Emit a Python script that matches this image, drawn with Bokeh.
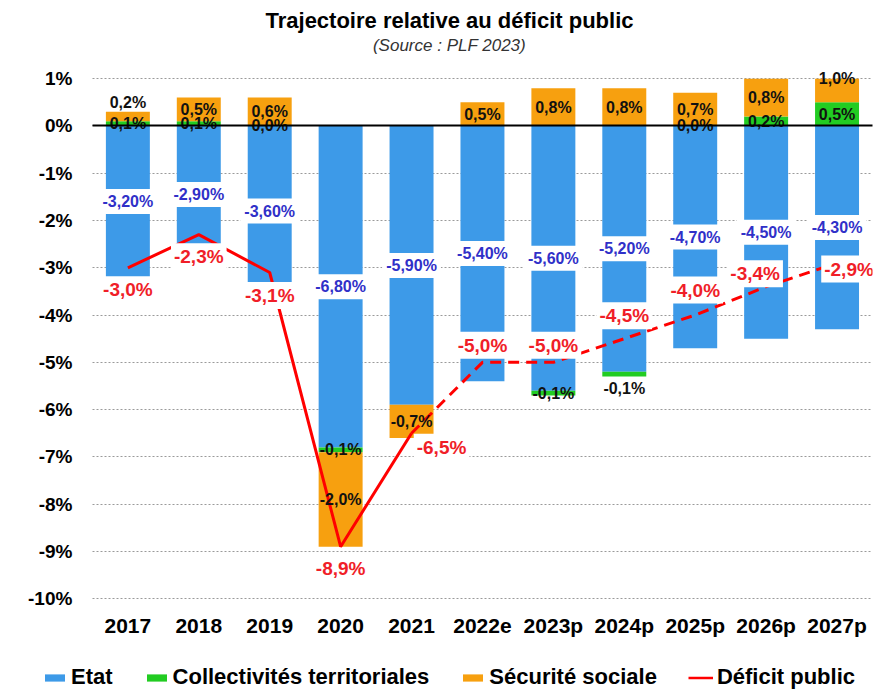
from bokeh.plotting import figure
from bokeh.layouts import column
from bokeh.models import (ColumnDataSource, FactorRange, Range1d, FixedTicker, Grid,
                          Legend, LegendItem, CustomJSTickFormatter)
from bokeh.core.properties import value
from bokeh.embed import file_html
from bokeh.resources import INLINE

# ---------------- data ----------------
years = ["2017", "2018", "2019", "2020", "2021", "2022e", "2023p", "2024p", "2025p", "2026p", "2027p"]
etat = [-3.2, -2.9, -3.6, -6.8, -5.9, -5.4, -5.6, -5.2, -4.7, -4.5, -4.3]
collectivites = [0.1, 0.1, 0.0, -0.1, None, None, -0.1, -0.1, 0.0, 0.2, 0.5]
securite_sociale = [0.2, 0.5, 0.6, -2.0, -0.7, 0.5, 0.8, 0.8, 0.7, 0.8, 1.0]
deficit = [-3.0, -2.3, -3.1, -8.9, -6.5, -5.0, -5.0, -4.5, -4.0, -3.4, -2.9]
last_actual = "2021"
y_ticks = list(range(-10, 2))
title_text = "Trajectoire relative au déficit public"
subtitle_text = "(Source : PLF 2023)"
series_names = ["Etat", "Collectivités territoriales", "Sécurité sociale", "Déficit public"]

# ---------------- style / layout ----------------
FONT = "Liberation Sans"
C_ETAT, C_COLL, C_SECU, C_DEF = "#3d9ae8", "#22cc22", "#f7a00f", "#ff0000"
C_ETAT_TXT, C_DEF_TXT = "#3030c8", "#f01e28"
Y_MIN, Y_MAX, AXIS_MAX = -10.25, 1.3, 1.0
W = 875
HEAD_H, MAIN_H, LEG_H = 64, 586, 40
BL, BR, BT, BB = 21, 3, 0, 40
PPU = (MAIN_H - BT - BB) / (Y_MAX - Y_MIN)      # pixels per percentage point
BAR_W = 0.62
PAD = " "                                        # empty slot left of the bars, holds the y labels
AXIS_POS = 1.0                                   # synthetic x where the y axis sits
# red label placement (pixels; dy positive = below the point)
RED_DX = [0, 0, 0, 0, 30, 0, 0, 0, 0, -11, 12]
RED_DY = [22, 22, 23, 22, 14, -17, -17, -23, -25, -13, 6]
SECU_NUDGE = {"2017": -14}
COLL_NUDGE = {"2024p": 14}


def fmt1(v):
    return f"{v:.1f}".replace(".", ",") + "%"


def fmt2(v):
    return f"{v:.2f}".replace(".", ",") + "%"


def blank_fig(h):
    f = figure(width=W, height=h, x_range=Range1d(BL, W - BR), y_range=Range1d(h, 0),
               output_backend="svg", toolbar_location=None,
               min_border_left=BL, min_border_right=BR, min_border_top=0, min_border_bottom=0,
               x_axis_type=None, y_axis_type=None)
    f.outline_line_color = None
    f.grid.visible = False
    return f


# ---------------- stacking ----------------
etat_src = dict(x=[], top=[], bottom=[])
coll_src = dict(x=[], top=[], bottom=[])
secu_src = dict(x=[], top=[], bottom=[])
etat_lbl = dict(x=[], y=[], t=[])
black_lbl = dict(x=[], y=[], t=[])

for yr, e, c, s in zip(years, etat, collectivites, securite_sociale):
    etat_src["x"].append(yr); etat_src["top"].append(0); etat_src["bottom"].append(e)
    etat_lbl["x"].append(yr); etat_lbl["y"].append(e / 2); etat_lbl["t"].append(fmt2(e))
    neg = e
    pos = 0.0
    if c is not None:
        if c >= 0:
            b, t = 0.0, c
            pos = c
        else:
            b, t = neg + c, neg
            neg = neg + c
        coll_src["x"].append(yr); coll_src["bottom"].append(b); coll_src["top"].append(min(t, AXIS_MAX))
        black_lbl["x"].append(yr)
        black_lbl["y"].append((b + t) / 2 - COLL_NUDGE.get(yr, 0) / PPU)
        black_lbl["t"].append(fmt1(c))
    if s >= 0:
        b, t = pos, pos + s
    else:
        b, t = neg + s, neg
    secu_src["x"].append(yr); secu_src["bottom"].append(b); secu_src["top"].append(min(t, AXIS_MAX))
    black_lbl["x"].append(yr)
    black_lbl["y"].append((b + t) / 2 - SECU_NUDGE.get(yr, 0) / PPU)
    black_lbl["t"].append(fmt1(s))

red_lbl = dict(x=list(years), y=[d - dy / PPU for d, dy in zip(deficit, RED_DY)],
               t=[fmt1(d) for d in deficit], dx=RED_DX)

k = years.index(last_actual)

# ---------------- header ----------------
head = blank_fig(HEAD_H)
head.text(x=[449], y=[20], text=[title_text], text_font=value(FONT), text_font_style="bold",
          text_font_size=value("22px"), text_color="black", text_align="center", text_baseline="middle")
head.text(x=[449], y=[45], text=[subtitle_text], text_font=value(FONT), text_font_style="italic",
          text_font_size=value("17px"), text_color="#333333", text_align="center", text_baseline="middle")

# ---------------- main chart ----------------
p = figure(x_range=FactorRange(PAD, *years), y_range=Range1d(Y_MIN, Y_MAX),
           width=W, height=MAIN_H, title=None, output_backend="svg", toolbar_location=None,
           min_border_left=BL, min_border_right=BR, min_border_top=BT, min_border_bottom=BB)
p.x_range.range_padding = 0
p.outline_line_color = None

r_etat = p.vbar(x="x", top="top", bottom="bottom", width=BAR_W, source=ColumnDataSource(etat_src),
                fill_color=C_ETAT, line_color=None)
r_coll = p.vbar(x="x", top="top", bottom="bottom", width=BAR_W, source=ColumnDataSource(coll_src),
                fill_color=C_COLL, line_color=None)
r_secu = p.vbar(x="x", top="top", bottom="bottom", width=BAR_W, source=ColumnDataSource(secu_src),
                fill_color=C_SECU, line_color=None)

# y axis sits at the left edge of the bar area
p.yaxis.fixed_location = AXIS_POS
p.yaxis.ticker = FixedTicker(ticks=y_ticks)
p.yaxis.formatter = CustomJSTickFormatter(code="return tick + '%';")
for ax in (p.xaxis[0], p.yaxis[0]):
    ax.axis_line_color = None
    ax.major_tick_line_color = None
    ax.minor_tick_line_color = None
    ax.major_tick_out = 0
    ax.major_tick_in = 0
    ax.minor_tick_out = 0
    ax.minor_tick_in = 0
    ax.major_label_text_font = FONT
    ax.major_label_text_font_style = "bold"
    ax.major_label_text_color = "black"
p.yaxis.major_label_text_font_size = "19px"
p.xaxis.major_label_text_font_size = "21px"
p.yaxis.major_label_standoff = 20
p.xaxis.major_label_standoff = 3

p.xgrid.grid_line_color = None
p.ygrid.grid_line_color = "#9a9a9a"
p.ygrid.grid_line_dash = "2 2"
p.ygrid.grid_line_width = 1
p.ygrid.cross_bounds = (AXIS_POS, len(years) + 1.0)

zero = Grid(dimension=1, ticker=FixedTicker(ticks=[0]), grid_line_color="black",
            grid_line_width=2, cross_bounds=(AXIS_POS, len(years) + 1.0), level="annotation")
p.add_layout(zero)

p.line(years[:k + 1], deficit[:k + 1], line_color=C_DEF, line_width=3)
p.line(years[k:], deficit[k:], line_color=C_DEF, line_width=3, line_dash="11 7")

p.text(x="x", y="y", text="t", source=ColumnDataSource(etat_lbl),
       text_font=value(FONT), text_font_style="bold", text_font_size=value("16px"),
       text_color=C_ETAT_TXT, text_align="center", text_baseline="middle",
       background_fill_color="white", padding=4)
p.text(x="x", y="y", text="t", source=ColumnDataSource(black_lbl),
       text_font=value(FONT), text_font_style="bold", text_font_size=value("16px"),
       text_color="#111111", text_align="center", text_baseline="middle")
p.text(x="x", y="y", text="t", x_offset="dx", source=ColumnDataSource(red_lbl),
       text_font=value(FONT), text_font_style="bold", text_font_size=value("19px"),
       text_color=C_DEF_TXT, text_align="center", text_baseline="middle",
       background_fill_color="white", padding=3)

# ---------------- legend strip ----------------
leg = blank_fig(LEG_H)
nan = float("nan")
l_etat = leg.vbar(x=[0], top=[nan], width=1, fill_color=C_ETAT, line_color=None)
l_coll = leg.vbar(x=[0], top=[nan], width=1, fill_color=C_COLL, line_color=None)
l_secu = leg.vbar(x=[0], top=[nan], width=1, fill_color=C_SECU, line_color=None)
l_def = leg.line(x=[0, 0], y=[nan, nan], line_color=C_DEF, line_width=2.5)
legend = Legend(items=[LegendItem(label=n, renderers=[r]) for n, r in
                       zip(series_names, [l_etat, l_coll, l_secu, l_def])],
                orientation="horizontal", location=(42 - BL, 0), margin=0, padding=0,
                spacing=31, label_standoff=4, glyph_width=25, glyph_height=9,
                label_text_font=FONT, label_text_font_style="bold", label_text_font_size="22px",
                label_text_color="black", border_line_color=None, background_fill_alpha=0)
leg.add_layout(legend, "center")

open("out.html", "w").write(file_html(column(head, p, leg, spacing=0), INLINE))
